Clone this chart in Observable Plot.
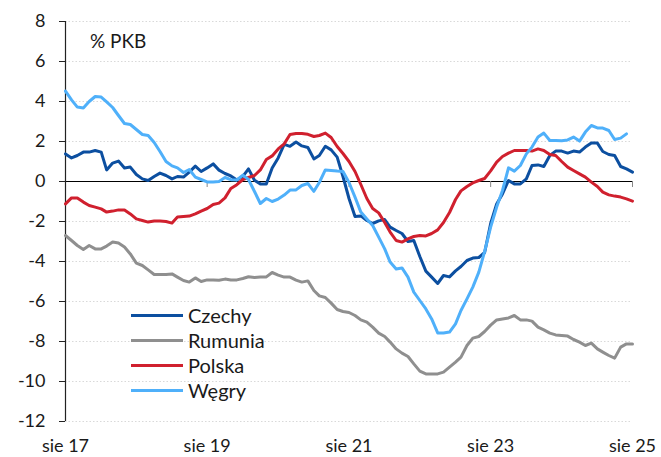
<!DOCTYPE html>
<html>
<head>
<meta charset="utf-8">
<script src="https://cdn.jsdelivr.net/npm/d3@7"></script>
<script src="https://cdn.jsdelivr.net/npm/@observablehq/plot@0.6"></script>
<style>
  html, body { margin: 0; padding: 0; background: #fff; }
  #wrap { position: relative; width: 661px; height: 457px; font-family: Lato, "Open Sans", sans-serif; color: #1a1a1a; }
  #unit { position: absolute; left: 90px; top: 31px; font-size: 19px; line-height: 1; }
  #legend { position: absolute; left: 131px; top: 303px; font-size: 20px; line-height: 25px; }
  #legend .row { display: flex; align-items: center; height: 25px; }
  #legend .sw { width: 52px; height: 3px; margin-right: 5px; }
</style>
</head>
<body>
<div id="wrap">
  <div id="chart"></div>
  <div id="unit">% PKB</div>
  <div id="legend"></div>
</div>
<script>
const startMonth = "2017-08-01";
const seriesNames = ["Czechy", "Rumunia", "Polska", "Węgry"];
const seriesColors = ["#0c4fa0", "#8f8f8f", "#d0202e", "#4fb0fa"];
const xTickLabels = ["sie 17", "sie 19", "sie 21", "sie 23", "sie 25"];
const xTickDates = ["2017-08-01", "2019-08-01", "2021-08-01", "2023-08-01", "2025-08-01"];
const yTicks = [-12, -10, -8, -6, -4, -2, 0, 2, 4, 6, 8];

const czechy = [1.38,1.18,1.3,1.47,1.47,1.55,1.47,0.58,0.92,1.02,0.68,0.72,0.35,0.13,0.05,0.25,0.42,0.3,0.13,0.25,0.22,0.47,0.77,0.5,
  0.68,0.88,0.57,0.4,0.28,0.07,0.26,0.63,0.06,-0.12,-0.12,0.68,1.18,1.86,1.76,1.97,1.78,1.7,1.13,1.3,1.76,1.58,1.22,0.25,
  -0.85,-1.75,-1.72,-1.95,-2.1,-1.97,-1.9,-2.28,-2.45,-2.6,-3.0,-2.95,-3.75,-4.48,-4.78,-5.1,-4.7,-4.77,-4.47,-4.25,-3.95,-3.83,-3.8,-3.55,
  -2.1,-1.12,-0.62,0.05,-0.12,-0.12,0.13,0.8,0.83,0.75,1.3,1.52,1.52,1.42,1.52,1.47,1.72,1.92,1.92,1.5,1.35,1.3,0.75,0.63,0.47];
const rumunia = [-2.7,-2.95,-3.2,-3.4,-3.2,-3.37,-3.37,-3.23,-3.03,-3.08,-3.28,-3.62,-4.08,-4.2,-4.42,-4.65,-4.65,-4.65,-4.62,-4.78,-4.95,-5.03,-4.82,-5.0,
  -4.92,-4.92,-4.94,-4.88,-4.93,-4.92,-4.85,-4.76,-4.8,-4.78,-4.77,-4.55,-4.68,-4.78,-4.78,-4.93,-5.03,-4.97,-5.45,-5.72,-5.8,-6.08,-6.4,-6.5,
  -6.55,-6.7,-6.92,-7.03,-7.28,-7.58,-7.75,-8.03,-8.37,-8.58,-8.75,-9.12,-9.48,-9.62,-9.62,-9.62,-9.53,-9.28,-9.03,-8.78,-8.2,-7.83,-7.75,-7.5,
  -7.18,-6.92,-6.87,-6.82,-6.7,-6.92,-6.92,-6.98,-7.28,-7.42,-7.58,-7.67,-7.7,-7.73,-7.9,-8.03,-8.2,-8.08,-8.37,-8.53,-8.7,-8.83,-8.28,-8.12,-8.12];
const polska = [-1.12,-0.82,-0.82,-1.03,-1.2,-1.28,-1.37,-1.53,-1.48,-1.42,-1.42,-1.62,-1.87,-1.95,-2.03,-1.98,-1.98,-2.0,-2.08,-1.78,-1.75,-1.73,-1.62,-1.48,
  -1.35,-1.15,-1.08,-0.82,-0.35,-0.16,0.1,0.2,0.3,0.58,1.1,1.28,1.63,1.88,2.35,2.4,2.4,2.36,2.25,2.3,2.42,2.2,1.75,1.4,
  1.0,0.5,-0.15,-0.85,-1.35,-1.57,-2.05,-2.53,-2.95,-3.03,-2.87,-2.75,-2.7,-2.72,-2.6,-2.42,-2.05,-1.55,-0.9,-0.47,-0.25,-0.07,0.05,0.15,
  0.53,0.97,1.25,1.42,1.55,1.55,1.55,1.52,1.63,1.55,1.35,1.3,1.0,0.72,0.55,0.38,0.22,-0.03,-0.25,-0.53,-0.67,-0.73,-0.78,-0.87,-0.98];
const wegry = [4.52,4.08,3.72,3.68,4.0,4.25,4.22,3.98,3.7,3.3,2.9,2.85,2.6,2.35,2.3,1.95,1.5,1.0,0.78,0.68,0.45,0.6,0.22,0.1,
  -0.02,-0.03,0.0,0.2,0.09,0.08,0.32,0.1,-0.5,-1.1,-0.85,-1.0,-0.88,-0.68,-0.43,-0.42,-0.2,-0.1,-0.49,-0.05,0.58,0.55,0.52,0.5,
  -0.05,-0.78,-1.53,-1.87,-2.2,-2.78,-3.37,-4.03,-4.37,-4.32,-4.78,-5.53,-5.95,-6.37,-6.87,-7.57,-7.58,-7.53,-7.12,-6.45,-5.87,-5.28,-4.53,-3.5,
  -2.28,-1.28,-0.45,0.68,0.52,0.8,1.38,1.72,2.22,2.42,2.05,2.05,2.04,2.08,2.22,2.02,2.47,2.8,2.68,2.67,2.55,2.1,2.17,2.38];

const seriesValues = [czechy, rumunia, polska, wegry];
const start = new Date(startMonth);
const rows = [];
seriesValues.forEach((vals, si) => {
  vals.forEach((v, i) => rows.push({series: seriesNames[si], date: d3.utcMonth.offset(start, i), value: v}));
});
const tickDates = xTickDates.map(d => new Date(d));
const xDomain = [tickDates[0], tickDates[tickDates.length - 1]];
const labelOf = new Map(tickDates.map((d, i) => [+d, xTickLabels[i]]));

const chart = Plot.plot({
  width: 661,
  height: 457,
  marginLeft: 65,
  marginRight: 29,
  marginTop: 21,
  marginBottom: 36,
  style: {fontFamily: "Lato, 'Open Sans', sans-serif", color: "#1a1a1a", background: "#fff"},
  x: {type: "utc", domain: xDomain, label: null},
  y: {domain: [-12, 8], label: null},
  marks: [
    Plot.ruleY(yTicks.filter(d => d !== 0), {stroke: "#d9d9d9", strokeDasharray: "1.5,2"}),
    Plot.ruleY([0], {stroke: "#000", strokeWidth: 1.2}),
    Plot.ruleX(tickDates, {y1: 0, y2: -0.3, stroke: "#888"}),
    Plot.ruleX([xDomain[0]], {y1: -12, y2: 8, stroke: "#222", strokeWidth: 1.2}),
    Plot.axisY({ticks: yTicks, tickSize: 6, tickPadding: 14, fontSize: 18, label: null,
      tickFormat: d => d < 0 ? "-" + Math.abs(d) : String(d), stroke: "#222"}),
    Plot.axisX({ticks: tickDates, tickSize: 0, tickPadding: 18, fontSize: 18, label: null,
      tickFormat: d => labelOf.get(+d)}),
    ...seriesNames.map((name, si) =>
      Plot.lineY(rows.filter(r => r.series === name), {x: "date", y: "value", stroke: seriesColors[si], strokeWidth: 3, strokeLinejoin: "round"})
    )
  ]
});
document.getElementById("chart").appendChild(chart);

const legend = document.getElementById("legend");
seriesNames.forEach((name, si) => {
  const row = document.createElement("div");
  row.className = "row";
  const sw = document.createElement("div");
  sw.className = "sw";
  sw.style.background = seriesColors[si];
  const t = document.createElement("span");
  t.textContent = name;
  row.appendChild(sw);
  row.appendChild(t);
  legend.appendChild(row);
});
</script>
</body>
</html>
